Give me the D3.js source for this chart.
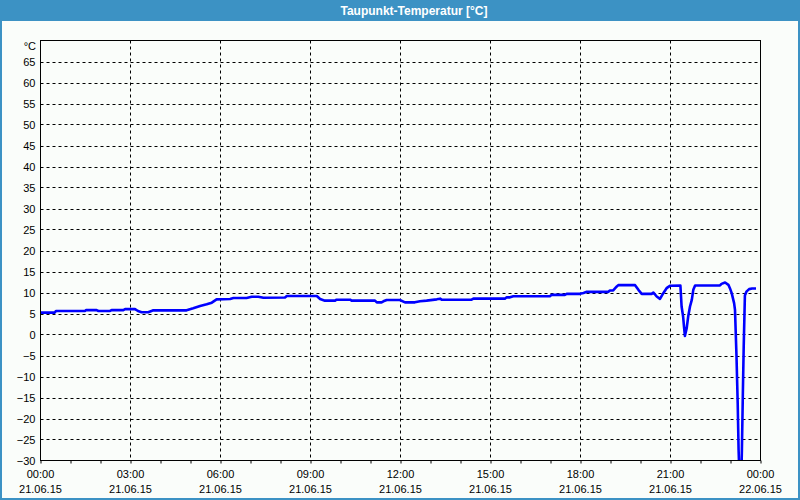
<!DOCTYPE html>
<html><head><meta charset="utf-8">
<script src="https://cdn.jsdelivr.net/npm/d3@7/dist/d3.min.js"></script>
<style>body{margin:0;background:#fafdfa;} svg{display:block;}</style>
</head><body><svg id="c" width="800" height="500"></svg>
<script>
const title = "Taupunkt-Temperatur [°C]";
const unitLabel = "°C";
// hours since 21.06.15 00:00
const hours = [0.00,0.47,0.52,1.48,1.52,1.87,1.93,2.32,2.37,2.76,2.82,3.15,3.25,3.37,3.59,3.70,3.76,4.87,5.09,5.32,5.54,5.71,5.87,6.32,6.43,6.87,7.04,7.26,7.43,8.15,8.21,9.21,9.32,9.48,9.82,9.87,10.32,10.37,11.15,11.21,11.37,11.43,11.54,11.98,12.15,12.48,12.65,12.87,13.21,13.32,13.37,14.37,14.43,15.48,15.54,15.65,15.76,16.98,17.04,17.48,17.54,17.98,18.10,18.21,18.93,18.98,19.09,19.21,19.26,19.82,19.93,20.04,20.37,20.43,20.54,20.65,20.76,20.87,20.98,21.33,21.37,21.42,21.45,21.48,21.54,21.59,21.65,21.71,21.76,21.82,22.65,22.70,22.82,22.93,22.98,23.04,23.12,23.15,23.20,23.24,23.27,23.30,23.36,23.38,23.41,23.44,23.48,23.53,23.62,23.72,23.85];
const values = [5.2,5.2,5.6,5.6,5.8,5.8,5.6,5.6,5.8,5.8,6.05,6.05,5.6,5.3,5.3,5.6,5.75,5.75,6.23,6.79,7.18,7.58,8.37,8.45,8.69,8.69,9.0,9.0,8.75,8.8,9.17,9.17,8.45,8.06,8.06,8.29,8.29,8.06,8.06,7.66,7.66,7.9,8.21,8.21,7.66,7.66,7.9,8.06,8.37,8.53,8.29,8.29,8.53,8.53,8.85,8.85,9.1,9.1,9.44,9.44,9.68,9.68,9.9,10.16,10.16,10.48,10.48,11.43,11.75,11.75,10.63,9.68,9.68,10.0,9.05,8.49,9.84,11.03,11.59,11.67,6.67,4.29,1.90,-0.32,1.51,4.29,6.67,8.25,10.63,11.67,11.67,12.06,12.38,11.83,11.03,9.84,7.46,5.87,-5.2,-16.3,-27.5,-34,-34,-27.5,-14.8,-3.0,9.3,10.2,10.8,10.95,10.95];
const xTickHours = [0,3,6,9,12,15,18,21,24];
const xTimeLabels = ["00:00","03:00","06:00","09:00","12:00","15:00","18:00","21:00","00:00"];
const xDateLabels = ["21.06.15","21.06.15","21.06.15","21.06.15","21.06.15","21.06.15","21.06.15","21.06.15","22.06.15"];
const xMinorHours = d3.range(0,25,1);
const yTicks = [-30,-25,-20,-15,-10,-5,0,5,10,15,20,25,30,35,40,45,50,55,60,65];
const yDomain = [-30,70];

const svg = d3.select("#c");
const font = "'Liberation Sans', Arial, sans-serif";
const L = 40.5, R = 760.5, T = 40.5, B = 460.5;
const x = d3.scaleLinear().domain([0,24]).range([L,R]);
const y = d3.scaleLinear().domain(yDomain).range([B,T]);

svg.append("rect").attr("width",800).attr("height",500).attr("fill","#fafdfa");
// title bar
svg.append("rect").attr("x",0).attr("y",0).attr("width",800).attr("height",21).attr("fill","#3c92c4");
svg.append("text").attr("x",414).attr("y",15).attr("text-anchor","middle")
  .attr("fill","#ffffff").attr("font-family",font).attr("font-weight","bold").attr("font-size",12)
  .text(title);
// window border
svg.append("rect").attr("x",1).attr("y",1).attr("width",798).attr("height",498)
  .attr("fill","none").attr("stroke","#3c92c4").attr("stroke-width",2);

// grid
const g = svg.append("g");
g.selectAll("line.hg").data(yTicks.filter(v=>v>yDomain[0])).join("line")
  .attr("x1",L).attr("x2",R).attr("y1",d=>Math.round(y(d))+0.5).attr("y2",d=>Math.round(y(d))+0.5)
  .attr("stroke","#000").attr("stroke-dasharray","3,3");
g.selectAll("line.vg").data(xTickHours.filter(h=>h>0&&h<24)).join("line")
  .attr("x1",d=>x(d)).attr("x2",d=>x(d)).attr("y1",T).attr("y2",B)
  .attr("stroke","#000").attr("stroke-dasharray","3,3");

// minor x ticks
svg.append("g").attr("transform",`translate(0,${B})`)
  .call(d3.axisBottom(x).tickValues(xMinorHours).tickSize(3).tickFormat(""))
  .call(s=>s.select(".domain").remove())
  .call(s=>s.selectAll("line").attr("stroke","#000"));

// y axis labels
svg.append("g").attr("transform",`translate(${L},0)`)
  .call(d3.axisLeft(y).tickValues(yTicks).tickSize(0).tickPadding(5))
  .call(s=>s.select(".domain").remove())
  .call(s=>s.selectAll("text").attr("font-family",font).attr("font-size",11).attr("fill","#000").attr("dy","0.36em"));
svg.append("text").attr("x",36).attr("y",50).attr("text-anchor","end")
  .attr("font-family",font).attr("font-size",11).attr("fill","#000").text(unitLabel);

// x labels
const xl = svg.append("g").attr("font-family",font).attr("font-size",11).attr("fill","#000").attr("text-anchor","middle");
xl.selectAll("text.t").data(xTickHours).join("text").attr("x",d=>x(d)).attr("y",478).text((d,i)=>xTimeLabels[i]);
xl.selectAll("text.d").data(xTickHours).join("text").attr("x",d=>x(d)).attr("y",493).text((d,i)=>xDateLabels[i]);

// clip + line
svg.append("clipPath").attr("id","clip").append("rect").attr("x",L).attr("y",T).attr("width",R-L).attr("height",B-T);
const pts = hours.map((h,i)=>[h,values[i]]);
svg.append("path").datum(pts).attr("clip-path","url(#clip)")
  .attr("d", d3.line().x(d=>x(d[0])).y(d=>y(d[1])))
  .attr("fill","none").attr("stroke","#0000ff").attr("stroke-width",2.6).attr("stroke-linejoin","round");

// plot frame
svg.append("rect").attr("x",L).attr("y",T).attr("width",R-L).attr("height",B-T)
  .attr("fill","none").attr("stroke","#000").attr("stroke-width",1);
</script></body></html>
